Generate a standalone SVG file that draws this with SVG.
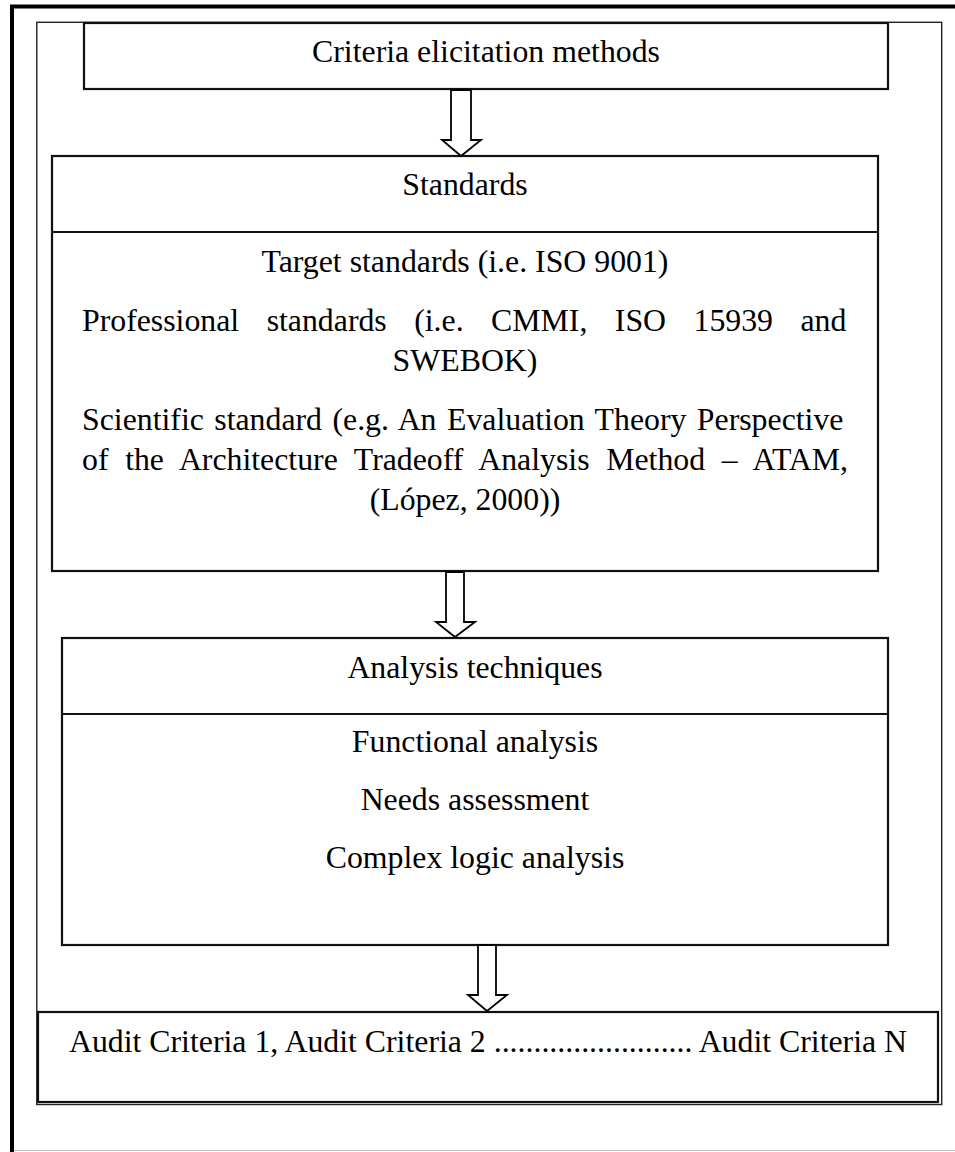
<svg xmlns="http://www.w3.org/2000/svg" width="955" height="1152" viewBox="0 0 955 1152">
<style>
text{font-family:"Liberation Serif","Times New Roman",serif;font-size:31.8px;fill:#000;text-anchor:middle}
text.j{text-anchor:start}
.box{fill:#fff;stroke:#111;stroke-width:2.2}
.div{stroke:#111;stroke-width:2.2}
.arrow{fill:#fff;stroke:#000;stroke-width:1.8;stroke-linejoin:miter}
</style>
<rect width="955" height="1152" fill="#fff"/>
<g id="frame">
<path d="M12 1152 V6.5 H955" fill="none" stroke="#000" stroke-width="4"/>
<path d="M14 1150.5 H955" fill="none" stroke="#bbb" stroke-width="1.2"/>
<rect x="36.8" y="22.3" width="904.9" height="1082.2" fill="none" stroke="#222" stroke-width="1.4"/>
</g>
<g id="node-criteria">
<rect class="box" x="84" y="23" width="804" height="66"/>
<text x="486" y="62">Criteria elicitation methods</text>
</g>
<g id="node-standards">
<rect class="box" x="52" y="156" width="826" height="415"/>
<line class="div" x1="52" y1="232" x2="878" y2="232"/>
<text x="465" y="195">Standards</text>
<text x="465" y="272">Target standards (i.e. ISO 9001)</text>
<text class="j" x="82" y="331" word-spacing="19.5">Professional standards (i.e. CMMI, ISO 15939 and</text>
<text x="465" y="371">SWEBOK)</text>
<text class="j" x="82" y="430" word-spacing="2.5">Scientific standard (e.g. An Evaluation Theory Perspective</text>
<text class="j" x="82" y="470" word-spacing="8.7">of the Architecture Tradeoff Analysis Method – ATAM,</text>
<text x="465" y="510">(López, 2000))</text>
</g>
<g id="node-analysis">
<rect class="box" x="62" y="638" width="826" height="307"/>
<line class="div" x1="62" y1="714" x2="888" y2="714"/>
<text x="475" y="678">Analysis techniques</text>
<text x="475" y="752">Functional analysis</text>
<text x="475" y="810">Needs assessment</text>
<text x="475" y="868">Complex logic analysis</text>
</g>
<g id="node-audit">
<rect class="box" x="38" y="1012" width="900" height="90"/>
<text x="488" y="1052">Audit Criteria 1, Audit Criteria 2 ......................... Audit Criteria N</text>
</g>
<g id="connectors">
<path class="arrow" d="M451 90 V140 H442 L461 156 L481 140 H471 V90 Z"/>
<path class="arrow" d="M446 572 V622 H436 L455 637 L475 622 H464 V572 Z"/>
<path class="arrow" d="M478 945 V995 H468 L487 1011 L507 995 H496 V945 Z"/>
</g>
</svg>
